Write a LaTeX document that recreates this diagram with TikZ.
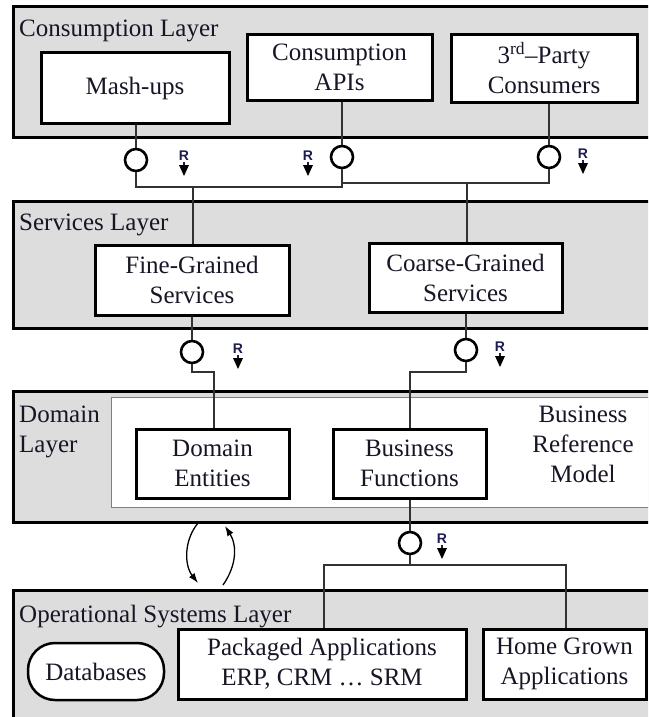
\documentclass[tikz,border=0pt]{standalone}
\usepackage{fontspec}
\setmainfont{Liberation Serif}
\newfontfamily\rfont{Liberation Sans}
\usetikzlibrary{arrows.meta}
\definecolor{layerfill}{RGB}{221,221,221}
\definecolor{inkc}{RGB}{22,22,38}
\definecolor{wirec}{RGB}{50,50,50}
\definecolor{rnavy}{RGB}{28,28,80}

\begin{document}
\begin{tikzpicture}[x=1pt,y=-1pt,
  every node/.style={font=\fontsize{25}{30}\selectfont, text=inkc},
  layer/.style={draw=black, line width=3pt, fill=layerfill, anchor=north west, inner sep=0pt},
  box/.style={draw=black, line width=3pt, fill=white, align=center, inner sep=0pt},
  ltitle/.style={anchor=base west, inner sep=0pt, align=left},
  iface/.style={circle, draw=black, line width=2.6pt, fill=white, minimum size=22pt, inner sep=0pt},
  wire/.style={draw=wirec, line width=1.5pt},
  flowarrow/.style={draw=black, line width=1.3pt, -{Latex[length=10pt,width=7pt]}},
  rflow/.pic={
    \node[inner sep=0pt, text=rnavy, font=\rfont\bfseries\fontsize{14}{14}\selectfont] at (0,-1) {R};
    \draw[rnavy, line width=1.2pt] (0,5) -- (0,9);
    \fill[black] (-5,8) -- (5,8) -- (0,19) -- cycle;
  }
]
\useasboundingbox (0,0) rectangle (648,717);
\clip (0,0) rectangle (648,717);

% layers
\node[layer, minimum width=660pt, minimum height=131pt] (cons) at (12,5) {};
\node[layer, minimum width=660pt, minimum height=127pt] (serv) at (12,200) {};
\node[layer, minimum width=660pt, minimum height=131pt] (dom) at (12,390) {};
\node[draw=gray, line width=1.2pt, fill=white, anchor=north west, inner sep=0pt,
      minimum width=560pt, minimum height=110pt] (brm) at (111,397) {};
\node[layer, minimum width=660pt, minimum height=128pt] (ops) at (12,589) {};

% layer titles
\node[ltitle] (tcons) at (19,37) {Consumption Layer};
\node[ltitle] (tserv) at (19,230) {Services Layer};
\node[ltitle] (tdom) at (19,452) {Domain\\Layer};
\node[ltitle] (tops) at (19,622) {Operational Systems Layer};
\node[align=center, inner sep=0pt] (tbrm) at (583,444) {Business\\Reference\\Model};

% components
\node[box, minimum width=188pt, minimum height=70pt] (mash) at (135,88) {Mash-ups};
\node[box, minimum width=185pt, minimum height=65pt] (capi) at (339.5,67.5) {Consumption\\APIs};
\node[box, minimum width=186pt, minimum height=67pt] (third) at (544,68.5) {3\textsuperscript{rd}\textendash Party\\Consumers};
\node[box, minimum width=194pt, minimum height=70pt] (fine) at (192,280) {Fine-Grained\\Services};
\node[box, minimum width=193pt, minimum height=69pt] (coarse) at (465.5,277.5) {Coarse-Grained\\Services};
\node[box, minimum width=153pt, minimum height=69pt] (ent) at (212.5,463.5) {Domain\\Entities};
\node[box, minimum width=153pt, minimum height=69pt] (bfun) at (409.5,463.5) {Business\\Functions};
\node[box, line width=2.5pt, rounded corners=27pt, minimum width=136pt, minimum height=57pt] (db) at (96,671.5) {Databases};
\node[box, minimum width=288pt, minimum height=70pt] (pack) at (322,664) {Packaged Applications\\ERP, CRM \dots\ SRM};
\node[box, minimum width=163pt, minimum height=70pt] (home) at (564.5,664) {Home Grown\\Applications};

% interfaces
\node[iface] (c1) at (136,160) {};
\node[iface] (c2) at (342,157) {};
\node[iface] (c3) at (549,157) {};
\node[iface] (c4) at (192,352) {};
\node[iface] (c5) at (466,350) {};
\node[iface] (c6) at (410,543) {};

% junction points
\coordinate (j1) at (342,187);
\coordinate (j2) at (549,183);
\coordinate (d1) at (193,187);
\coordinate (d2) at (467,183);
\coordinate (k1) at (214,372);
\coordinate (k2) at (410,372);
\coordinate (m0) at (410,565);
\coordinate (m1) at (324,565);
\coordinate (m2) at (566,565);

% consumption -> services
\draw[wire] (mash.south -| c1) -- (c1);
\draw[wire] (capi.south -| c2) -- (c2);
\draw[wire] (third.south -| c3) -- (c3);
\draw[wire] (c1) |- (j1) -- (c2);
\draw[wire] (c2) |- (j2) -- (c3);
\draw[wire] (d1) -- (fine.north -| d1);
\draw[wire] (d2) -- (coarse.north -| d2);

% services -> domain
\draw[wire] (fine.south -| c4) -- (c4);
\draw[wire] (c4) |- (k1) -- (ent.north -| k1);
\draw[wire] (coarse.south -| c5) -- (c5);
\draw[wire] (c5) |- (k2) -- (bfun.north -| k2);

% domain -> operational systems
\draw[wire] (bfun.south -| c6) -- (c6);
\draw[wire] (c6) -- (m0);
\draw[wire] (pack.north -| m1) -- (m1) -- (m2) -- (home.north -| m2);

% data exchange between domain and operational layers
\coordinate (u1) at (198,523);
\coordinate (u2) at (198,583);
\coordinate (v1) at (223,585);
\coordinate (v2) at (225,526);
\draw[flowarrow] (u1) .. controls (184,540) and (184,565) .. (u2);
\draw[flowarrow] (v1) .. controls (237,565) and (237,545) .. (v2);

% request markers
\pic at (184,157) {rflow};
\pic at (308,157) {rflow};
\pic at (583,155) {rflow};
\pic at (238,350) {rflow};
\pic at (500,348) {rflow};
\pic at (442,540) {rflow};
\end{tikzpicture}
\end{document}
